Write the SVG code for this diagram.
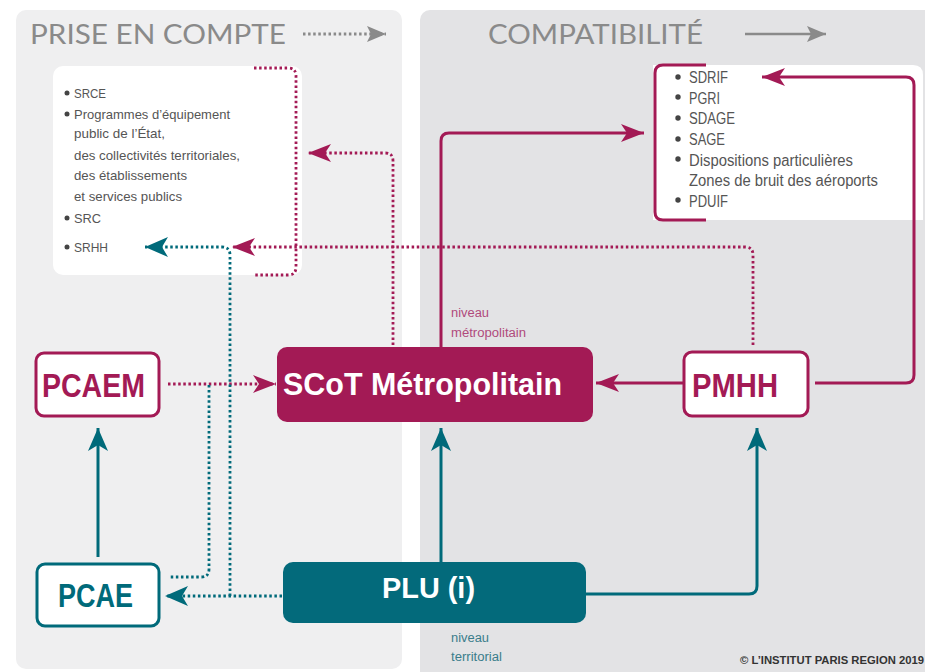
<svg xmlns="http://www.w3.org/2000/svg" width="925" height="672" viewBox="0 0 925 672">
<style>
.title{font-family:"Lato","Open Sans",sans-serif;font-size:26px;fill:#8a8a8a}
.lst{font-family:"Liberation Sans",Arial,sans-serif;font-size:13px;fill:#555}
.lst2{font-family:"Liberation Sans",Arial,sans-serif;font-size:16px;fill:#555}
.bul{fill:#444}
.lbl{font-family:"Liberation Sans",Arial,sans-serif;font-weight:bold}
.mg{fill:#a31a55}
.tl{fill:#006a7a}
.sm{font-family:"Liberation Sans",Arial,sans-serif;font-size:12px}
.dm{fill:none;stroke:#a31a55;stroke-width:2.8;stroke-dasharray:2.5 2.6}
.dt{fill:none;stroke:#006a7a;stroke-width:2.8;stroke-dasharray:2.5 2.6}
.sm1{fill:none;stroke:#a31a55;stroke-width:3}
.st1{fill:none;stroke:#006a7a;stroke-width:3}
</style>
<defs>
<marker id="am" markerUnits="userSpaceOnUse" markerWidth="24" markerHeight="18" refX="23" refY="9" orient="auto" overflow="visible"><path d="M23,9 L0,0 L6,9 L0,18 z" fill="#a31a55"/></marker>
<marker id="at" markerUnits="userSpaceOnUse" markerWidth="24" markerHeight="20" refX="23" refY="10" orient="auto" overflow="visible"><path d="M23,10 L0,0 L6,10 L0,20 z" fill="#006a7a"/></marker>
<marker id="ag" markerUnits="userSpaceOnUse" markerWidth="20" markerHeight="16" refX="19" refY="8" orient="auto" overflow="visible"><path d="M19,8 L0,0 L4,8 L0,16 z" fill="#8a8a8a"/></marker>
</defs>
<rect width="925" height="672" fill="#ffffff"/>
<g id="panels">
<rect x="16" y="10" width="386" height="659" rx="10" fill="#efeff0"/>
<rect x="420" y="10" width="520" height="680" rx="10" fill="#e3e3e5"/>
</g>
<g id="legend">
<text class="title" x="30" y="44" textLength="256" lengthAdjust="spacingAndGlyphs">PRISE EN COMPTE</text>
<path d="M303,34 H386" fill="none" stroke="#8a8a8a" stroke-width="2.8" stroke-dasharray="2.5 2.6" marker-end="url(#ag)"/>
<text class="title" x="488" y="44" textLength="215" lengthAdjust="spacingAndGlyphs">COMPATIBILITÉ</text>
<path d="M745,34 H826" fill="none" stroke="#8a8a8a" stroke-width="2.5" marker-end="url(#ag)"/>
</g>
<g id="box-prise">
<rect x="53" y="66" width="249" height="209" rx="10" fill="#ffffff"/>
<circle class="bul" cx="67" cy="93" r="2.5"/>
<text class="lst" x="74" y="98" textLength="32" lengthAdjust="spacingAndGlyphs">SRCE</text>
<circle class="bul" cx="67" cy="114" r="2.5"/>
<text class="lst" x="74" y="119" textLength="156" lengthAdjust="spacingAndGlyphs">Programmes d’équipement</text>
<text class="lst" x="74" y="138" textLength="91" lengthAdjust="spacingAndGlyphs">public de l’État,</text>
<text class="lst" x="74" y="160" textLength="166" lengthAdjust="spacingAndGlyphs">des collectivités territoriales,</text>
<text class="lst" x="74" y="180" textLength="113" lengthAdjust="spacingAndGlyphs">des établissements</text>
<text class="lst" x="74" y="201" textLength="108" lengthAdjust="spacingAndGlyphs">et services publics</text>
<circle class="bul" cx="67" cy="218" r="2.5"/>
<text class="lst" x="74" y="223" textLength="27" lengthAdjust="spacingAndGlyphs">SRC</text>
<circle class="bul" cx="67" cy="247" r="2.5"/>
<text class="lst" x="74" y="252" textLength="34" lengthAdjust="spacingAndGlyphs">SRHH</text>
</g>
<g id="box-compat">
<path d="M653,65 H913 Q923,65 923,75 V220 H653 z" fill="#ffffff"/>
<circle class="bul" cx="678" cy="77" r="2.7"/>
<text class="lst2" x="689" y="83" textLength="39" lengthAdjust="spacingAndGlyphs">SDRIF</text>
<circle class="bul" cx="678" cy="97" r="2.7"/>
<text class="lst2" x="689" y="104" textLength="31" lengthAdjust="spacingAndGlyphs">PGRI</text>
<circle class="bul" cx="678" cy="118" r="2.7"/>
<text class="lst2" x="689" y="124" textLength="46" lengthAdjust="spacingAndGlyphs">SDAGE</text>
<circle class="bul" cx="678" cy="139" r="2.7"/>
<text class="lst2" x="689" y="145" textLength="36" lengthAdjust="spacingAndGlyphs">SAGE</text>
<circle class="bul" cx="678" cy="159" r="2.7"/>
<text class="lst2" x="689" y="166" textLength="164" lengthAdjust="spacingAndGlyphs">Dispositions particulières</text>
<text class="lst2" x="689" y="186" textLength="189" lengthAdjust="spacingAndGlyphs">Zones de bruit des aéroports</text>
<circle class="bul" cx="678" cy="200" r="2.7"/>
<text class="lst2" x="689" y="207" textLength="39" lengthAdjust="spacingAndGlyphs">PDUIF</text>
</g>
<g id="connectors">
<path class="dm" d="M254,68 H288 Q296,68 296,76 V267 Q296,275 288,275 H254"/>
<path class="sm1" d="M706,65 H663 Q655,65 655,73 V212 Q655,220 663,220 H706"/>
<path class="dm" d="M168,384 H276" marker-end="url(#am)"/>
<path class="dm" d="M393,345 V161 Q393,153 385,153 H308" marker-end="url(#am)"/>
<path class="dm" d="M753,345 V255 Q753,247 745,247 H232" marker-end="url(#am)"/>
<path class="dt" d="M282,596 H165" marker-end="url(#at)"/>
<path class="dt" d="M230,596 V255 Q230,247 222,247 H145" marker-end="url(#at)"/>
<path class="dt" d="M209,385 V569 Q209,577 201,577 H170"/>
<path class="st1" d="M98,557 V428" marker-end="url(#at)"/>
<path class="st1" d="M441,562 V428" marker-end="url(#at)"/>
<path class="st1" d="M586,594 H749 Q757,594 757,586 V428" marker-end="url(#at)"/>
<path class="sm1" d="M683,383 H596" marker-end="url(#am)"/>
<path class="sm1" d="M441,347 V141 Q441,133 449,133 H644" marker-end="url(#am)"/>
<path class="sm1" d="M815,383 H906 Q914,383 914,375 V85 Q914,77 906,77 H762" marker-end="url(#am)"/>
</g>
<g id="pcaem">
<rect x="36" y="353" width="123" height="63" rx="8" fill="#ffffff" stroke="#a31a55" stroke-width="3"/>
<text class="lbl mg" x="42" y="397" font-size="33" textLength="103" lengthAdjust="spacingAndGlyphs">PCAEM</text>
</g>
<g id="pcae">
<rect x="37" y="564" width="122" height="62" rx="8" fill="#ffffff" stroke="#006a7a" stroke-width="3"/>
<text class="lbl tl" x="58" y="607" font-size="33" textLength="75" lengthAdjust="spacingAndGlyphs">PCAE</text>
</g>
<g id="scot">
<rect x="277" y="347" width="316" height="75" rx="10" fill="#a31a55"/>
<text class="lbl" x="283" y="395" font-size="32" fill="#ffffff" textLength="279" lengthAdjust="spacingAndGlyphs">SCoT Métropolitain</text>
</g>
<g id="pmhh">
<rect x="684" y="352" width="124" height="64" rx="8" fill="#ffffff" stroke="#a31a55" stroke-width="3"/>
<text class="lbl mg" x="692" y="397" font-size="33" textLength="86" lengthAdjust="spacingAndGlyphs">PMHH</text>
</g>
<g id="plu">
<rect x="283" y="562" width="303" height="61" rx="10" fill="#036a7b"/>
<text class="lbl" x="382" y="598" font-size="30" fill="#ffffff" textLength="93" lengthAdjust="spacingAndGlyphs">PLU (i)</text>
</g>
<g id="labels">
<text class="sm" x="451" y="317" fill="#b04a7c" textLength="38" lengthAdjust="spacingAndGlyphs">niveau</text>
<text class="sm" x="451" y="337" fill="#b04a7c" textLength="75" lengthAdjust="spacingAndGlyphs">métropolitain</text>
<text class="sm" x="451" y="642" fill="#3a7d8b" textLength="38" lengthAdjust="spacingAndGlyphs">niveau</text>
<text class="sm" x="451" y="661" fill="#3a7d8b" textLength="51" lengthAdjust="spacingAndGlyphs">territorial</text>
<text x="740" y="664" font-family="Liberation Sans,Arial,sans-serif" font-weight="bold" font-size="11" fill="#333" textLength="184" lengthAdjust="spacingAndGlyphs">© L’INSTITUT PARIS REGION 2019</text>
</g>
</svg>
